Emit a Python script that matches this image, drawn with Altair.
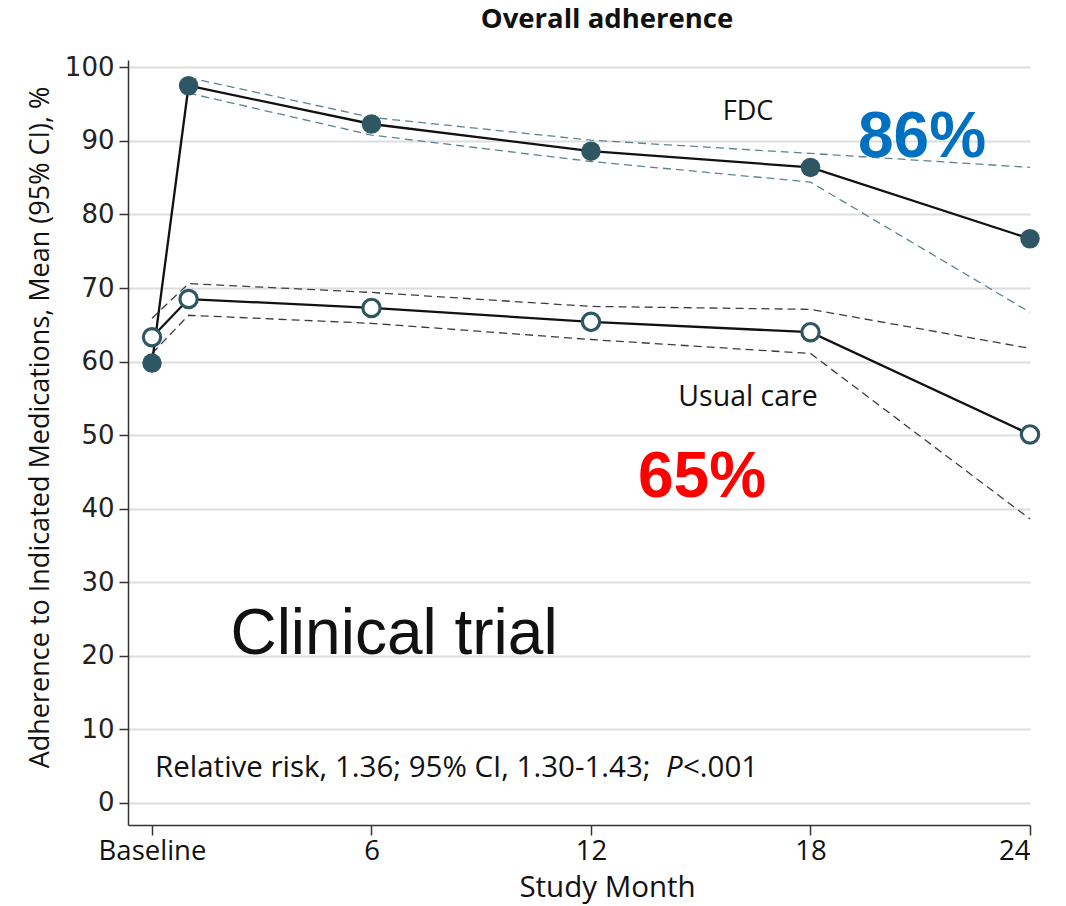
import altair as alt
import pandas as pd

# ---- data ----
months = [0, 1, 6, 12, 18, 24]
fdc_mean = [59.8, 97.5, 92.3, 88.6, 86.4, 76.7]
fdc_ci_months = [1, 6, 12, 18, 24]
fdc_upper = [98.6, 93.2, 90.1, 88.3, 86.4]
fdc_lower = [96.5, 90.8, 87.2, 84.4, 66.7]
uc_mean = [63.3, 68.5, 67.3, 65.4, 64.0, 50.1]
uc_upper = [65.9, 70.6, 69.4, 67.5, 67.1, 61.8]
uc_lower = [61.1, 66.3, 65.2, 63.0, 61.1, 38.6]
x_ticks = [0, 6, 12, 18, 24]
y_ticks = [0, 10, 20, 30, 40, 50, 60, 70, 80, 90, 100]

TEAL = "#2E5763"
FONT = "Open Sans"

mean_df = pd.concat([
    pd.DataFrame({"month": months, "value": fdc_mean, "group": "FDC"}),
    pd.DataFrame({"month": months, "value": uc_mean, "group": "Usual care"}),
])
ci_df = pd.concat([
    pd.DataFrame({"month": fdc_ci_months, "value": fdc_upper, "band": "fdc_u", "group": "FDC"}),
    pd.DataFrame({"month": fdc_ci_months, "value": fdc_lower, "band": "fdc_l", "group": "FDC"}),
    pd.DataFrame({"month": months, "value": uc_upper, "band": "uc_u", "group": "Usual care"}),
    pd.DataFrame({"month": months, "value": uc_lower, "band": "uc_l", "group": "Usual care"}),
])
fdc_df = pd.DataFrame({"month": months, "value": fdc_mean})
uc_df = pd.DataFrame({"month": months, "value": uc_mean})

xscale = alt.Scale(domain=[-0.656, 24], nice=False, zero=False)
yscale = alt.Scale(domain=[-3, 101], nice=False, zero=False)

x_enc = alt.X(
    "month:Q", scale=xscale,
    axis=alt.Axis(
        values=x_ticks, grid=False,
        labelExpr="datum.value == 0 ? 'Baseline' : datum.label",
        tickSize=10, tickColor="#333", domainColor="#333", tickWidth=1.5, domainWidth=1.5,
        labelFont=FONT, labelFontSize=27.5, labelColor="#111", labelPadding=2,
        title="Study Month", titleFont=FONT, titleFontSize=29.5, titleFontWeight="normal",
        titleColor="#111", titleX=479, titleY=62, titleAlign="center", titleBaseline="middle",
    ),
)
y_enc = alt.Y(
    "value:Q", scale=yscale,
    axis=alt.Axis(
        values=y_ticks, grid=True, gridColor="#dddddd", gridWidth=2,
        tickSize=9, tickColor="#333", domainColor="#333", tickWidth=1.5, domainWidth=1.5,
        labelFont="DejaVu Sans", labelFontSize=26, labelColor="#222", labelPadding=5,
        title="Adherence to Indicated Medications, Mean (95% CI), %",
        titleFont=FONT, titleFontSize=27, titleFontWeight="normal", titleColor="#111",
        titleX=-88, titleY=367, titleAngle=-90, titleAlign="center", titleBaseline="middle",
    ),
)

ci = alt.Chart(ci_df).mark_line(strokeDash=[8, 5], strokeWidth=1.3).encode(
    x=x_enc, y=y_enc, detail="band:N",
    color=alt.Color("group:N", scale=alt.Scale(domain=["FDC", "Usual care"],
                                                range=["#5E8290", "#3C3C3C"]), legend=None),
)
lines = alt.Chart(mean_df).mark_line(color="#111111", strokeWidth=2.3).encode(
    x="month:Q", y="value:Q", detail="group:N")
fdc_pts = alt.Chart(fdc_df).mark_point(
    shape="circle", filled=True, size=380, color=TEAL, opacity=1).encode(x="month:Q", y="value:Q")
uc_pts = alt.Chart(uc_df).mark_point(
    shape="circle", filled=False, size=300, stroke=TEAL, strokeWidth=3.2, fill="white",
    fillOpacity=1, opacity=1).encode(x="month:Q", y="value:Q")


def label(text, x, y, size, font=FONT, weight="normal", color="#111", align="center",
          style="normal"):
    return alt.Chart(pd.DataFrame({"t": [text]})).mark_text(
        font=font, fontSize=size, fontWeight=weight, color=color, align=align,
        baseline="middle", fontStyle=style,
    ).encode(text="t:N", x=alt.value(x), y=alt.value(y))


texts = [
    label("Overall adherence", 479, -40, 27.5, weight="bold"),
    label("FDC", 620, 52, 27),
    label("Usual care", 620, 337, 28.5),
    label("86%", 794, 78, 64, font="Liberation Sans", weight="bold", color="#0070C0"),
    label("65%", 574, 418, 64, font="Liberation Sans", weight="bold", color="#FF0000"),
    label("Clinical trial", 266, 575, 64, font="Liberation Sans"),
    label("Relative risk, 1.36; 95% CI, 1.30-1.43;", 27, 708, 29.5, align="left"),
    label("P", 538, 708, 29.5, align="left", style="italic"),
    label("<.001", 555, 708, 29.5, align="left"),
]

chart = alt.layer(ci, lines, fdc_pts, uc_pts, *texts).properties(
    width=902, height=765,
    autosize=alt.AutoSizeParams(type="none"),
    padding={"left": 128, "top": 60, "right": 36, "bottom": 81},
    background="white",
).configure_view(strokeWidth=0)

chart.save("out.html", embed_options={"renderer": "svg", "actions": False})
